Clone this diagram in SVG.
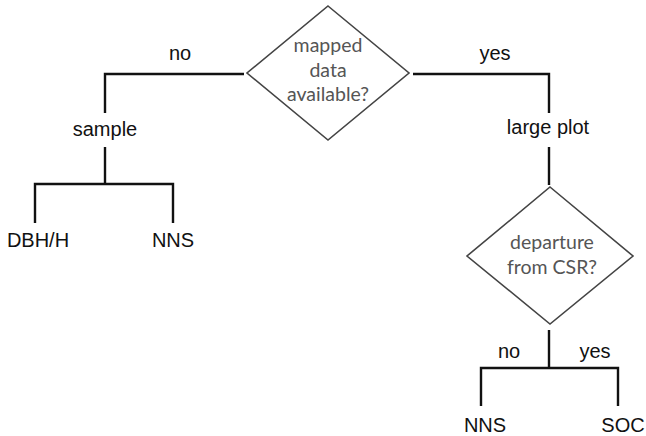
<svg xmlns="http://www.w3.org/2000/svg" width="646" height="436" viewBox="0 0 646 436">
<style>
.lbl{font-family:"Liberation Sans",Arial,sans-serif;font-size:20px;fill:#111;text-anchor:middle}
.dt{font-family:Lato,"Open Sans",sans-serif;font-size:19.5px;fill:#555;text-anchor:middle}
.dia{fill:#fff;stroke:#444;stroke-width:1.6}
.con{fill:none;stroke:#111;stroke-width:2.4}
</style>
<rect width="646" height="436" fill="#fff"/>
<g id="connectors">
<polyline class="con" points="244,74 105,74 105,113"/>
<polyline class="con" points="413,74 549,74 549,113"/>
<line class="con" x1="105" y1="147" x2="105" y2="184"/>
<polyline class="con" points="35,223 35,184 173,184 173,223"/>
<line class="con" x1="549" y1="147" x2="549" y2="185"/>
<line class="con" x1="549" y1="330" x2="549" y2="368"/>
<polyline class="con" points="481,406 481,368 618,368 618,406"/>
</g>
<g id="d1">
<polygon class="dia" points="328,6 409,73 328,140 247,73"/>
<text class="dt" x="328" y="52">mapped</text>
<text class="dt" x="328" y="77">data</text>
<text class="dt" x="328" y="101">available?</text>
</g>
<g id="d2">
<polygon class="dia" points="550,187 633,256 550,324 467,256"/>
<text class="dt" x="552" y="249">departure</text>
<text class="dt" x="552" y="274">from CSR?</text>
</g>
<g id="lbl-no1"><text class="lbl" x="180" y="60">no</text></g>
<g id="lbl-yes1"><text class="lbl" x="495" y="60">yes</text></g>
<g id="sample"><text class="lbl" x="105" y="136">sample</text></g>
<g id="largeplot"><text class="lbl" x="548" y="134">large plot</text></g>
<g id="dbh"><text class="lbl" x="38" y="247">DBH/H</text></g>
<g id="nns1"><text class="lbl" x="173" y="247">NNS</text></g>
<g id="lbl-no2"><text class="lbl" x="509" y="358">no</text></g>
<g id="lbl-yes2"><text class="lbl" x="595" y="358">yes</text></g>
<g id="nns2"><text class="lbl" x="485" y="432">NNS</text></g>
<g id="soc"><text class="lbl" x="623" y="432">SOC</text></g>
</svg>
